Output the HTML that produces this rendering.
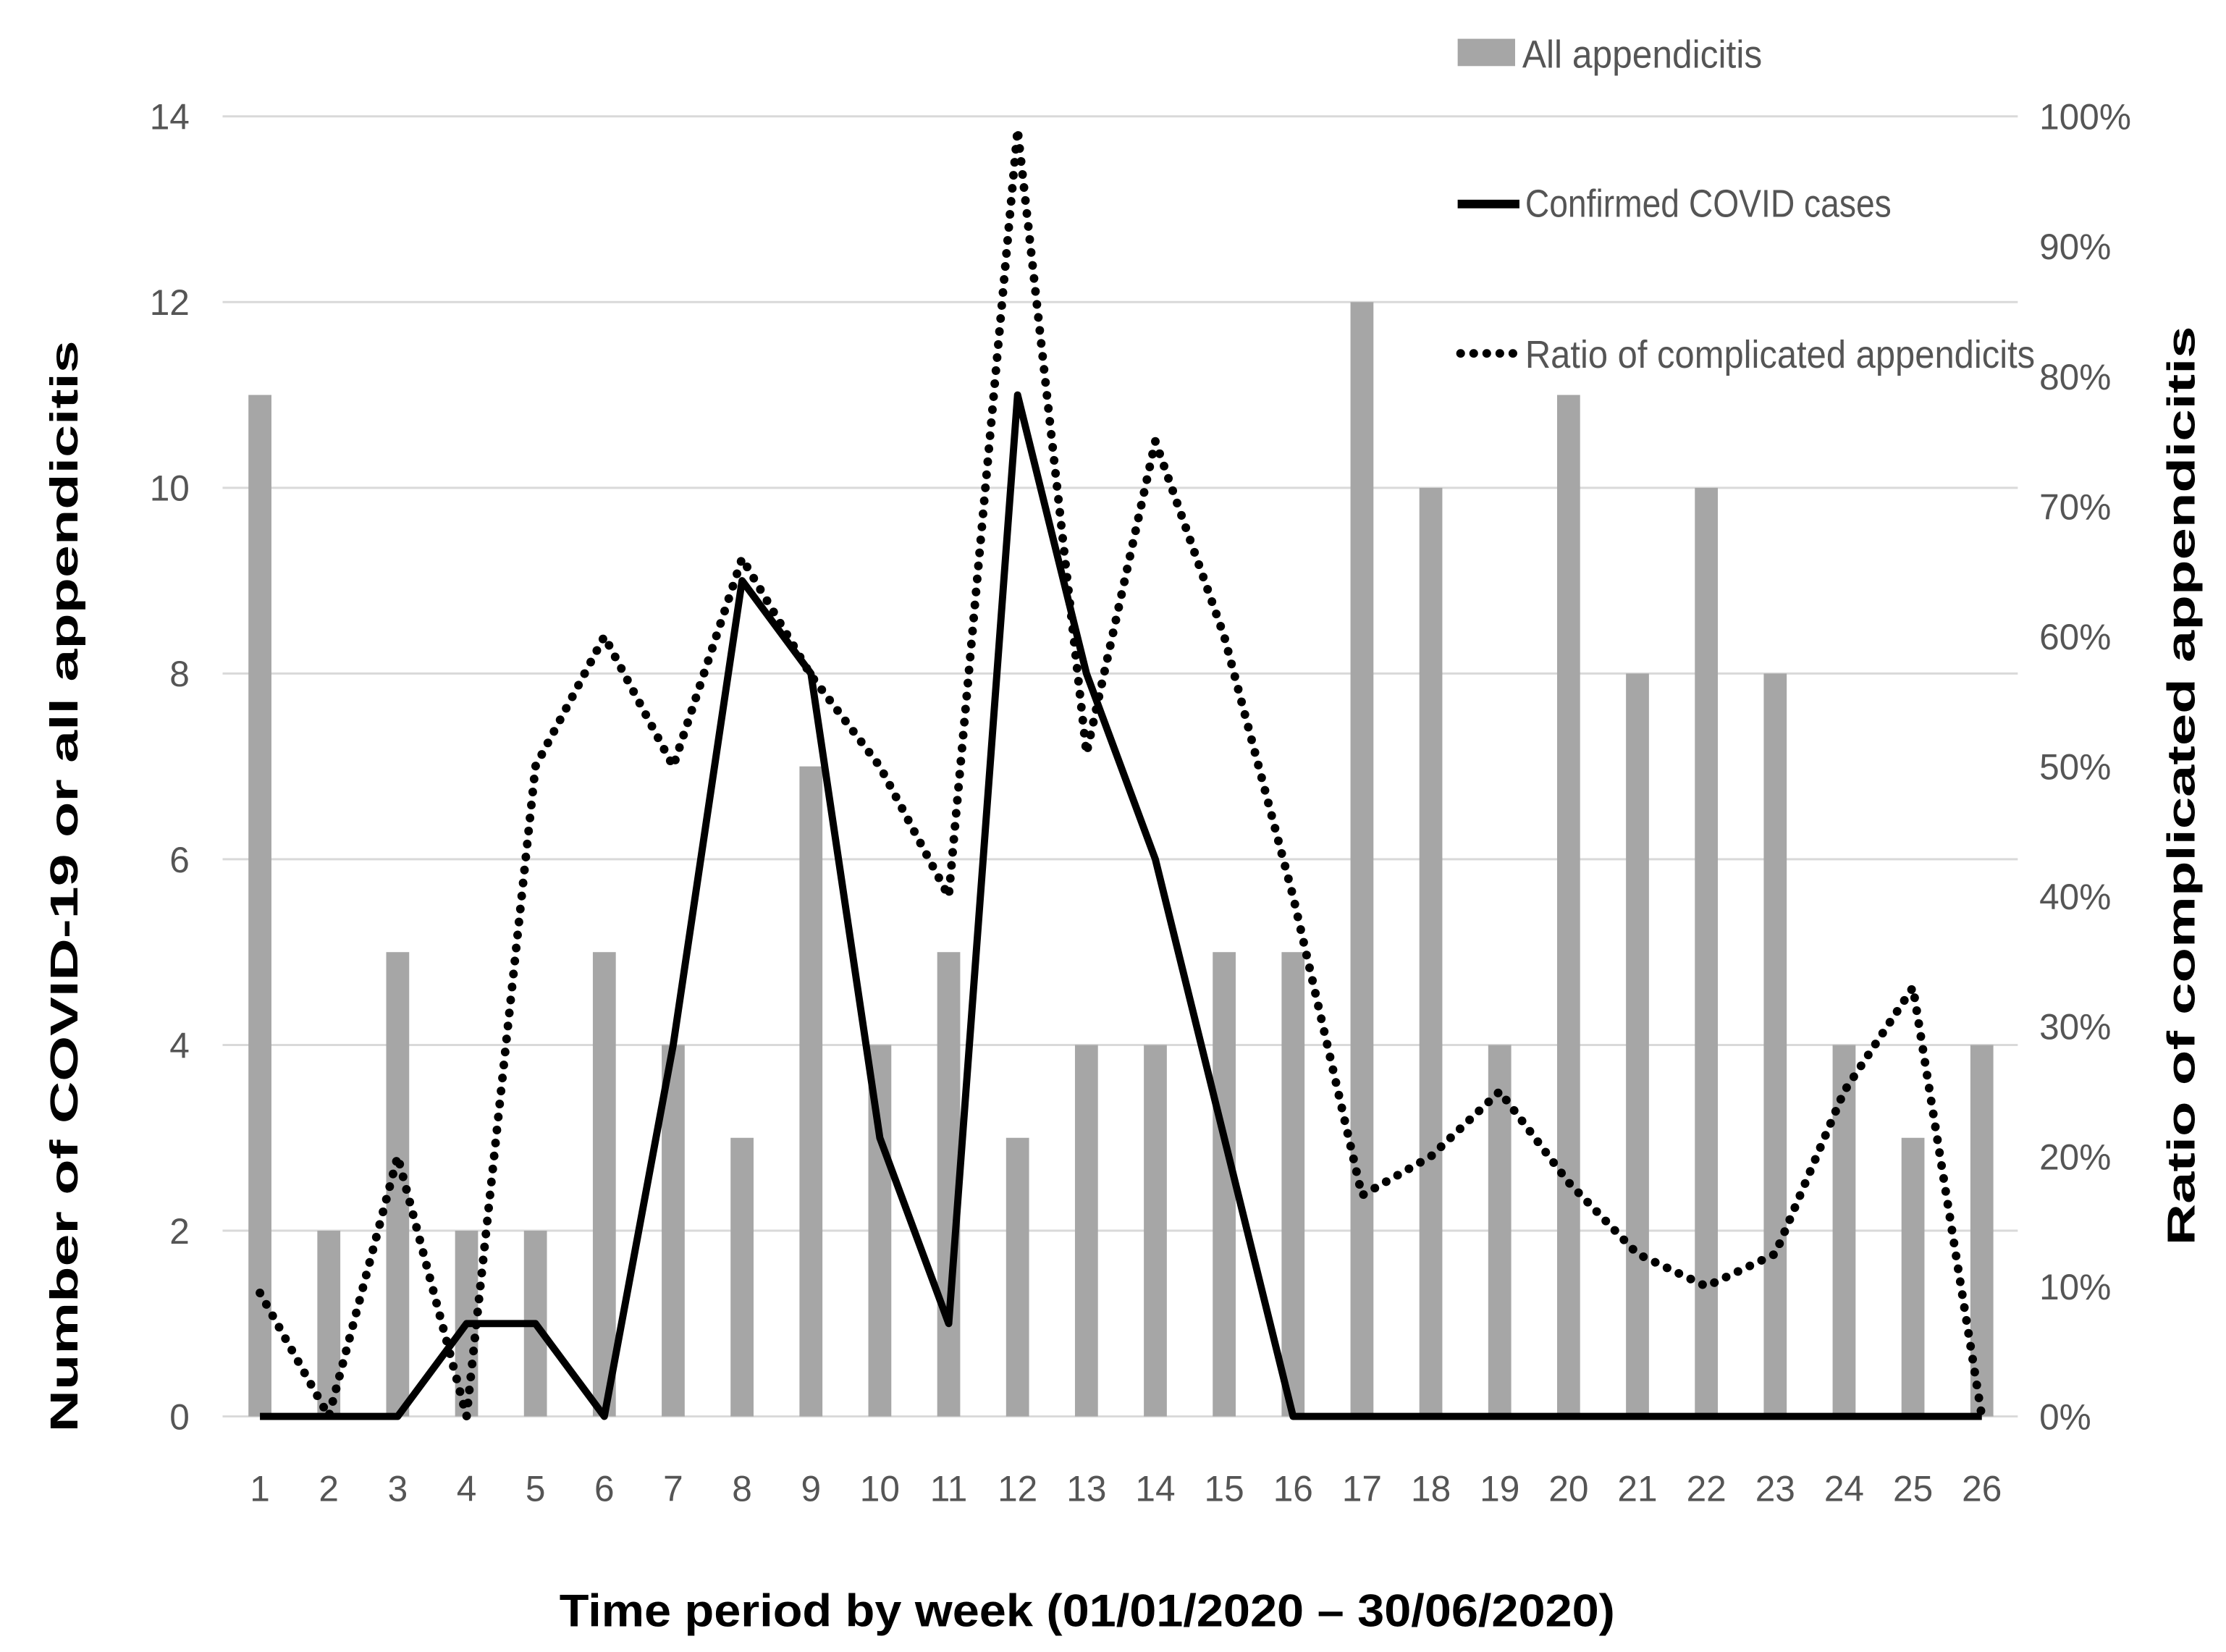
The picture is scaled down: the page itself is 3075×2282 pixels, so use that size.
<!DOCTYPE html>
<html><head><meta charset="utf-8"><style>
html,body{margin:0;padding:0;background:#fff}
svg{display:block}
text{font-family:"Liberation Sans",sans-serif}
</style></head><body>
<svg id="chart" width="3075" height="2282" viewBox="0 0 1550 1150" preserveAspectRatio="none" xmlns="http://www.w3.org/2000/svg">
<g id="grid"></g><g id="bars"></g><g id="lines"></g><g id="labels"></g>
<g>
 <rect x="1015" y="27" width="40" height="19" fill="#a6a6a6"/>
 <text x="1060" y="47" font-size="27" fill="#555" textLength="167" lengthAdjust="spacingAndGlyphs">All appendicitis</text>
 <line x1="1015" y1="142" x2="1058" y2="142" stroke="#000" stroke-width="6"/>
 <text x="1062" y="151" font-size="27" fill="#555" textLength="255" lengthAdjust="spacingAndGlyphs">Confirmed COVID cases</text>
 <line x1="1017" y1="246" x2="1058" y2="246" stroke="#000" stroke-width="6" stroke-dasharray="0.1 9" stroke-linecap="round"/>
 <text x="1062" y="256" font-size="27" fill="#555" textLength="355" lengthAdjust="spacingAndGlyphs">Ratio of complicated appendicits</text>
</g>
<text transform="translate(54,617) rotate(-90)" text-anchor="middle" font-size="27" font-weight="bold" fill="#000" textLength="760" lengthAdjust="spacingAndGlyphs">Number of COVID-19 or all appendicitis</text>
<text transform="translate(1528,547) rotate(-90)" text-anchor="middle" font-size="27" font-weight="bold" fill="#000" textLength="640" lengthAdjust="spacingAndGlyphs">Ratio of complicated appendicitis</text>
<text x="757" y="1132" text-anchor="middle" font-size="32" font-weight="bold" fill="#000" textLength="735" lengthAdjust="spacingAndGlyphs">Time period by week (01/01/2020 – 30/06/2020)</text>
</svg>
<script>
const weeks=["1","2","3","4","5","6","7","8","9","10","11","12","13","14","15","16","17","18","19","20","21","22","23","24","25","26"];
const allAppendicitis=[11,2,5,2,2,5,4,3,7,4,5,3,4,4,5,5,12,10,4,11,8,10,8,4,3,4];
const covidCases=[0,0,0,1,1,0,4,9,8,3,1,11,8,6,3,0,0,0,0,0,0,0,0,0,0,0];
const ratioPct=[9.5,0,20,0,50,60,50,66,57,50,40,99,51,75,60,40,17,20,25,18,12.5,10,12.5,25,33,0];
const leftTicks=[0,2,4,6,8,10,12,14];
const rightTicks=[0,10,20,30,40,50,60,70,80,90,100];
const NS="http://www.w3.org/2000/svg";
const y0=986,y14=81;
const xS=i=>181+i*(1380-181)/25;
const yL=v=>y0-(y0-y14)*v/14;
const yR=p=>y0-(y0-y14)*p/100;
function mk(tag,attrs,parent){const e=document.createElementNS(NS,tag);for(const k in attrs)e.setAttribute(k,attrs[k]);document.getElementById(parent).appendChild(e);return e;}
leftTicks.forEach(t=>{
 if(t>0){const g=mk('line',{x1:155,x2:1405,y1:yL(t),y2:yL(t),stroke:'#d9d9d9','stroke-width':1.5},'grid');
 
 }
 const l=mk('text',{x:132,y:yL(t)+9,'text-anchor':'end','font-size':25,fill:'#555'},'labels');l.textContent=t;
 
 
});
const ax=mk('line',{x1:155,x2:1405,y1:y0,y2:y0,stroke:'#d9d9d9','stroke-width':1.5},'grid');


rightTicks.forEach(t=>{
 const l=mk('text',{x:1420,y:yR(t)+9,'font-size':25,fill:'#555'},'labels');l.textContent=t+'%';
 
 
});
weeks.forEach((w,i)=>{
 const l=mk('text',{x:xS(i),y:1045,'text-anchor':'middle','font-size':25,fill:'#555'},'labels');l.textContent=w;
 
 
 const b=mk('rect',{x:xS(i)-8,y:yL(allAppendicitis[i]),width:16,height:y0-yL(allAppendicitis[i]),fill:'#a6a6a6'},'bars');
 
 
});
const rp=mk('polyline',{points:ratioPct.map((v,i)=>xS(i)+','+yR(v)).join(' '),fill:'none',stroke:'#000','stroke-width':6,'stroke-dasharray':'0.1 9','stroke-linecap':'round','stroke-linejoin':'round'},'lines');


const cp=mk('polyline',{points:covidCases.map((v,i)=>xS(i)+','+yL(v)).join(' '),fill:'none',stroke:'#000','stroke-width':5,'stroke-linejoin':'round'},'lines');


</script>
</body></html>
